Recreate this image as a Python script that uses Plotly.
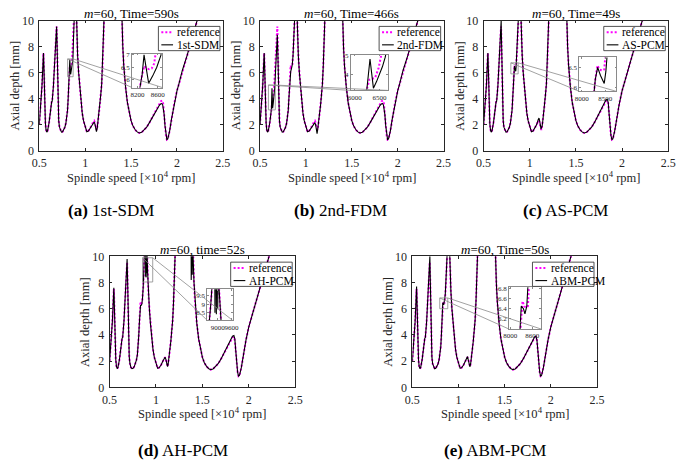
import plotly.graph_objects as go

W, H = 685, 469
FONT = "Liberation Serif"

# ---------------- data (spindle speed in 10^4 rpm, axial depth in mm) ----------------
ref_speed = [0.500, 0.510, 0.520, 0.530, 0.538, 0.546, 0.551, 0.556, 0.561, 0.567,
             0.574, 0.582, 0.590, 0.598, 0.606, 0.614, 0.620, 0.6245, 0.6295, 0.6350,
             0.6410, 0.6480, 0.6548, 0.6620, 0.6700, 0.6780, 0.6850, 0.6890, 0.6930, 0.6970,
             0.7010, 0.7060, 0.7120, 0.7200, 0.7300, 0.7420, 0.7540, 0.7660, 0.7780, 0.7900,
             0.8000, 0.8080, 0.8150, 0.8200, 0.8240, 0.8290, 0.8335, 0.8380, 0.8430, 0.8480,
             0.8530, 0.8570, 0.8620, 0.8680, 0.8730, 0.8780, 0.8860, 0.8950, 0.9000, 0.9050,
             0.9100, 0.9180, 0.9290, 0.9400, 0.9540, 0.9680, 0.9820, 1.0000, 1.0180, 1.0350,
             1.0550, 1.0750, 1.0900, 1.0980, 1.1060, 1.1140, 1.1200, 1.1250, 1.1320, 1.1400,
             1.1500, 1.1600, 1.1700, 1.1800, 1.1900, 1.2000, 1.2080, 1.2200, 1.3900, 1.4000,
             1.4100, 1.4200, 1.4300, 1.4400, 1.4600, 1.4800, 1.5000, 1.5200, 1.5450, 1.5700,
             1.5900, 1.6150, 1.6400, 1.6700, 1.7000, 1.7300, 1.7600, 1.7900, 1.8100, 1.8250,
             1.8400, 1.8500, 1.8600, 1.8700, 1.8800, 1.8900, 1.9000, 1.9200, 1.9400, 1.9700,
             2.0000, 2.0200, 2.0600, 2.1100, 2.1600, 2.2000, 2.2200, 2.3000]
ref_depth = [2.00, 2.80, 3.70, 5.00, 6.30, 7.50, 6.40, 4.60, 3.10, 2.10,
             1.60, 1.42, 1.50, 1.75, 2.10, 2.55, 2.90, 3.20, 3.70, 3.75,
             3.80, 4.30, 5.00, 6.00, 7.20, 8.40, 9.30, 9.55, 8.50, 6.50,
             4.60, 3.20, 2.30, 1.80, 1.52, 1.42, 1.45, 1.58, 1.78, 2.10,
             2.50, 3.10, 4.00, 4.80, 5.60, 6.20, 6.55, 6.45, 6.42, 6.45,
             6.65, 6.95, 7.60, 8.60, 9.50, 10.40, 12.50, 13.00, 12.00, 10.20,
             8.80, 7.30, 6.00, 4.90, 3.80, 2.90, 2.30, 1.75, 1.45, 1.50,
             1.70, 2.00, 2.25, 2.30, 2.15, 1.85, 1.60, 1.58, 1.80, 2.20,
             2.80, 3.50, 4.30, 5.10, 6.60, 8.50, 10.20, 13.00, 13.00, 10.00,
             8.00, 6.60, 5.60, 4.90, 3.70, 2.85, 2.30, 1.90, 1.60, 1.42,
             1.35, 1.40, 1.55, 1.80, 2.15, 2.55, 2.95, 3.35, 3.60, 3.80,
             3.85, 3.60, 2.80, 1.90, 1.15, 0.85, 0.90, 1.50, 2.40, 3.60,
             4.60, 5.10, 6.20, 7.30, 8.50, 9.50, 10.10, 12.00]

# 1st-SDM: local differences from the reference
sdm_kink_speed = [0.8290, 0.8328, 0.8370, 0.8420, 0.8500, 0.8580, 0.8665, 0.8720]
sdm_kink_depth = [6.20, 7.00, 6.40, 5.85, 6.15, 6.50, 7.00, 8.40]
sdm_notch_speed = [1.0900, 1.0980, 1.1060, 1.1140, 1.1230, 1.1320]
sdm_notch_depth = [2.15, 2.20, 2.05, 1.70, 1.45, 1.75]
sdm_peak_speed = [1.8100, 1.8250, 1.8350, 1.8450, 1.8550]
sdm_peak_depth = [3.50, 3.60, 3.62, 3.50, 3.10]

# 2nd-FDM
fdm_kink_speed = [0.6245, 0.6308, 0.6340, 0.6377, 0.6440, 0.6500, 0.6560, 0.6616, 0.6700,
                  0.6780, 0.6850, 0.6890, 0.6930]
fdm_kink_depth = [3.20, 4.80, 4.00, 3.25, 3.60, 4.00, 4.40, 4.90, 6.20,
                  7.60, 8.60, 8.90, 8.00]
fdm_kink2_speed = [0.8240, 0.8290, 0.8350, 0.8430, 0.8520, 0.8600]
fdm_kink2_depth = [5.40, 5.80, 6.10, 6.30, 6.60, 7.30]
fdm_notch_speed = [1.0900, 1.0980, 1.1060, 1.1140, 1.1220, 1.1300]
fdm_notch_depth = [2.10, 2.15, 2.00, 1.65, 1.30, 1.70]
fdm_peak_speed = [1.8100, 1.8250, 1.8350, 1.8450, 1.8550]
fdm_peak_depth = [3.50, 3.60, 3.62, 3.50, 3.10]

# AS-PCM
as_top_speed = [0.6850, 0.6900, 0.6935]
as_top_depth = [9.50, 10.00, 8.60]
as_kink_speed = [0.8290, 0.8340, 0.8400, 0.8480, 0.8515, 0.8550, 0.8620]
as_kink_depth = [6.20, 6.50, 6.30, 6.10, 6.40, 6.80, 7.60]
as_bump_speed = [1.0900, 1.1000, 1.1080, 1.1150, 1.1220, 1.1300]
as_bump_depth = [2.35, 2.50, 2.25, 1.90, 1.65, 1.85]
as_peak_speed = [1.8250, 1.8400, 1.8500]
as_peak_depth = [3.90, 3.95, 3.70]

# AH-PCM
ah_first_speed = [0.5460]
ah_first_depth = [7.60]
ah_top_speed = [0.6850, 0.6890, 0.6930]
ah_top_depth = [9.50, 9.80, 8.60]
ah_kink_speed = [0.8290, 0.8335, 0.8400, 0.8480, 0.8550]
ah_kink_depth = [6.10, 6.25, 6.25, 6.35, 6.80]
ah_spike_speed = [0.8870, 0.8885, 0.8900, 0.8930, 0.8945, 0.8960, 0.8990, 0.9005, 0.9020]
ah_spike_depth = [12.80, 8.50, 12.80, 13.00, 8.40, 13.00, 12.50, 8.70, 11.50]
ah_spike2_speed = [1.3780, 1.3800, 1.3830, 1.3880, 1.3910, 1.3940]
ah_spike2_depth = [13.00, 8.20, 13.00, 13.00, 8.60, 13.00]
ah_peak_speed = [1.8250, 1.8400, 1.8500]
ah_peak_depth = [3.90, 3.95, 3.70]

# ABM-PCM
abm_first_speed = [0.5460]
abm_first_depth = [7.70]
abm_top_speed = [0.6850, 0.6900, 0.6935]
abm_top_depth = [9.60, 10.00, 8.60]
abm_kink_speed = [0.8290, 0.8300, 0.8360, 0.8400, 0.8450, 0.8515, 0.8570]
abm_kink_depth = [6.20, 6.45, 6.40, 6.30, 6.45, 6.80, 7.10]
abm_bump_speed = [1.0980, 1.1220]
abm_bump_depth = [2.35, 1.60]
abm_peak_speed = [1.8250, 1.8400]
abm_peak_depth = [3.85, 3.90]

method_names = ["1st-SDM", "2nd-FDM", "AS-PCM", "AH-PCM", "ABM-PCM"]
panel_letters = ["a", "b", "c", "d", "e"]
titles = ["<i>m</i>=60, Time=590s", "<i>m</i>=60, Time=466s", "<i>m</i>=60, Time=49s",
          "<i>m</i>=60, time=52s", "<i>m</i>=60, Time=50s"]
x_ticks = [0.5, 1, 1.5, 2, 2.5]
x_tick_labels = ["0.5", "1", "1.5", "2", "2.5"]
y_ticks = [0, 2, 4, 6, 8, 10]
y_tick_labels = ["0", "2", "4", "6", "8", "10"]

inset_x_ranges = [[8090, 8690], [5920, 6670], [7950, 8740], [8550, 9650], [7970, 8840]]
inset_y_ranges = [[5.68, 7.05], [3.13, 5.04], [5.90, 6.75], [8.04, 9.89], [6.00, 6.82]]
inset_x_ticks = [[8200, 8600], [6000, 6500], [8000, 8500], [9000, 9600], [8000, 8600]]
inset_y_ticks = [[6, 6.5, 7], [4, 5], [6, 6.5], [8.5, 9, 9.5], [6.2, 6.4, 6.6, 6.8]]
inset_y_labels = [["6", "6.5", "7"], ["4", "5"], ["6", "6.5"], ["8.5", "9", "9.5"],
                  ["6.2", "6.4", "6.6", "6.8"]]


def splice(bs, bd, segments):
    pts = list(zip(bs, bd))
    for ss, dd in segments:
        lo, hi = min(ss), max(ss)
        pts = [p for p in pts if not (lo <= p[0] <= hi)]
        pts += list(zip(ss, dd))
    pts.sort()
    return [p[0] for p in pts], [p[1] for p in pts]


methods = [
    splice(ref_speed, ref_depth, [(sdm_kink_speed, sdm_kink_depth), (sdm_notch_speed, sdm_notch_depth),
                                  (sdm_peak_speed, sdm_peak_depth)]),
    splice(ref_speed, ref_depth, [(fdm_kink_speed, fdm_kink_depth), (fdm_kink2_speed, fdm_kink2_depth),
                                  (fdm_notch_speed, fdm_notch_depth), (fdm_peak_speed, fdm_peak_depth)]),
    splice(ref_speed, ref_depth, [(as_top_speed, as_top_depth), (as_kink_speed, as_kink_depth),
                                  (as_bump_speed, as_bump_depth), (as_peak_speed, as_peak_depth)]),
    splice(ref_speed, ref_depth, [(ah_first_speed, ah_first_depth), (ah_top_speed, ah_top_depth),
                                  (ah_kink_speed, ah_kink_depth), (ah_spike_speed, ah_spike_depth),
                                  (ah_spike2_speed, ah_spike2_depth), (ah_peak_speed, ah_peak_depth)]),
    splice(ref_speed, ref_depth, [(abm_first_speed, abm_first_depth), (abm_top_speed, abm_top_depth),
                                  (abm_kink_speed, abm_kink_depth), (abm_bump_speed, abm_bump_depth),
                                  (abm_peak_speed, abm_peak_depth)]),
]

# ---------------- layout geometry (pixels) ----------------
main_boxes = [(32, 14, 220, 148), (258, 14, 446, 148), (487, 14, 676, 148),
              (104, 257, 294, 392), (414, 257, 603, 392)]
inset_boxes = [(127, 48, 158, 83), (351, 49, 389, 86), (585, 52, 623, 87),
               (204, 291, 230, 323), (513, 289, 546, 332)]
caption_x = [105, 340, 571, 179, 499]
caption_y = [210, 210, 210, 457, 457]


def px(x):
    return x / W


def py(y):
    return 1 - y / H


AX = "#262626"
GREY = "#8a8a8a"
MAG = "#ff00ff"
DOT = "2px,2px"

fig = go.Figure()
layout = dict(width=W, height=H, margin=dict(l=0, r=0, t=0, b=0),
              paper_bgcolor="white", plot_bgcolor="white", showlegend=False,
              shapes=[], annotations=[])


def axkey(kind, i):
    return kind + "axis" + ("" if i == 1 else str(i))


def ref_id(kind, i):
    return kind + ("" if i == 1 else str(i))


for k in range(5):
    mi = k + 1
    ii = k + 6
    x0, y0, x1, y1 = main_boxes[k]
    ix0, iy0, ix1, iy1 = inset_boxes[k]
    ms, md = methods[k]

    layout[axkey("x", mi)] = dict(
        domain=[px(x0), px(x1)], range=[0.5, 2.5], anchor=ref_id("y", mi),
        showline=True, mirror="ticks", linecolor=AX, linewidth=0.8,
        ticks="inside", ticklen=3, tickcolor=AX, tickwidth=0.8,
        tickvals=x_ticks, ticktext=x_tick_labels, tickangle=0, ticklabelstandoff=1,
        tickfont=dict(family=FONT, size=12, color=AX),
        showgrid=False, zeroline=False, fixedrange=True)
    layout[axkey("y", mi)] = dict(
        domain=[py(y1), py(y0)], range=[0, 10], anchor=ref_id("x", mi),
        showline=True, mirror="ticks", linecolor=AX, linewidth=0.8,
        ticks="inside", ticklen=3, tickcolor=AX, tickwidth=0.8,
        tickvals=y_ticks, ticktext=y_tick_labels, ticklabelstandoff=2,
        tickfont=dict(family=FONT, size=12, color=AX),
        showgrid=False, zeroline=False, fixedrange=True)

    xr = inset_x_ranges[k]
    yr = inset_y_ranges[k]
    layout[axkey("x", ii)] = dict(
        domain=[px(ix0), px(ix1)], range=xr, anchor=ref_id("y", ii),
        showline=True, mirror="ticks", linecolor=GREY, linewidth=0.8,
        ticks="inside", ticklen=2, tickcolor=GREY, tickwidth=0.6,
        tickvals=inset_x_ticks[k], ticktext=[str(v) for v in inset_x_ticks[k]],
        tickangle=0,
        tickfont=dict(family=FONT, size=7, color=AX),
        showgrid=False, zeroline=False, fixedrange=True)
    layout[axkey("y", ii)] = dict(
        domain=[py(iy1), py(iy0)], range=yr, anchor=ref_id("x", ii),
        showline=True, mirror="ticks", linecolor=GREY, linewidth=0.8,
        ticks="inside", ticklen=2, tickcolor=GREY, tickwidth=0.6,
        tickvals=inset_y_ticks[k], ticktext=inset_y_labels[k],
        tickfont=dict(family=FONT, size=7, color=AX),
        showgrid=False, zeroline=False, fixedrange=True)

    # main curves
    fig.add_trace(go.Scatter(x=ref_speed, y=ref_depth, mode="lines",
                             line=dict(color=MAG, width=2, dash=DOT),
                             xaxis=ref_id("x", mi), yaxis=ref_id("y", mi)))
    fig.add_trace(go.Scatter(x=ms, y=md, mode="lines",
                             line=dict(color="black", width=1.1),
                             xaxis=ref_id("x", mi), yaxis=ref_id("y", mi)))
    # inset curves (rpm)
    fig.add_trace(go.Scatter(x=[s * 1e4 for s in ref_speed], y=ref_depth, mode="lines",
                             line=dict(color=MAG, width=2, dash=DOT),
                             xaxis=ref_id("x", ii), yaxis=ref_id("y", ii)))
    fig.add_trace(go.Scatter(x=[s * 1e4 for s in ms], y=md, mode="lines",
                             line=dict(color="black", width=1.1),
                             xaxis=ref_id("x", ii), yaxis=ref_id("y", ii)))

    # zoom rectangle on main plot
    rs0, rs1 = xr[0] / 1e4, xr[1] / 1e4
    layout["shapes"].append(dict(type="rect", xref=ref_id("x", mi), yref=ref_id("y", mi),
                                 x0=rs0, x1=rs1, y0=yr[0], y1=yr[1],
                                 line=dict(color=GREY, width=0.8), layer="above"))

    def to_paper(s, d):
        return (px(x0) + (s - 0.5) / 2 * (px(x1) - px(x0)),
                py(y1) + d / 10 * (py(y0) - py(y1)))

    tl = to_paper(rs0, yr[1])
    tr = to_paper(rs1, yr[1])
    for (a, b) in [(tl, (px(ix0), py(iy1))), (tr, (px(ix1), py(iy1)))]:
        layout["shapes"].append(dict(type="line", xref="paper", yref="paper",
                                     x0=a[0], y0=a[1], x1=b[0], y1=b[1],
                                     line=dict(color=GREY, width=0.8), layer="above"))

    # legend box
    lx1 = x1 - 3
    lx0 = lx1 - 63
    ly0 = y0 + 6
    ly1 = ly0 + 25
    layout["shapes"].append(dict(type="rect", xref="paper", yref="paper",
                                 x0=px(lx0), x1=px(lx1), y0=py(ly1), y1=py(ly0),
                                 fillcolor="white", line=dict(color=AX, width=0.8), layer="above"))
    for row, (col, dash, wd, label) in enumerate([(MAG, DOT, 2, "reference"),
                                                   ("black", "solid", 1.1, method_names[k])]):
        yy = ly0 + 6 + row * 13
        layout["shapes"].append(dict(type="line", xref="paper", yref="paper",
                                     x0=px(lx0 + 3), x1=px(lx0 + 15), y0=py(yy), y1=py(yy),
                                     line=dict(color=col, width=wd, dash=dash), layer="above"))
        layout["annotations"].append(dict(x=px(lx0 + 16.5), y=py(yy), xref="paper", yref="paper",
                                          text=label, showarrow=False, xanchor="left",
                                          yanchor="middle",
                                          font=dict(family=FONT, size=11.5, color="black")))

    # title
    layout["annotations"].append(dict(x=px((x0 + x1) / 2), y=py(y0 - 7), xref="paper", yref="paper",
                                      text=titles[k], showarrow=False, xanchor="center",
                                      yanchor="middle",
                                      font=dict(family=FONT, size=13, color="black")))
    # axis titles
    layout["annotations"].append(dict(x=px((x0 + x1) / 2), y=py(y1 + 27), xref="paper", yref="paper",
                                      text="Spindle speed [×10<sup>4</sup> rpm]", showarrow=False,
                                      xanchor="center", yanchor="middle",
                                      font=dict(family=FONT, size=12.5, color=AX)))
    layout["annotations"].append(dict(x=px(x0 - 25), y=py((y0 + y1) / 2), xref="paper", yref="paper",
                                      text="Axial depth [mm]", showarrow=False, textangle=-90,
                                      xanchor="center", yanchor="middle",
                                      font=dict(family=FONT, size=12.5, color=AX)))
    # caption
    layout["annotations"].append(dict(x=px(caption_x[k]), y=py(caption_y[k]),
                                      xref="paper", yref="paper",
                                      text="<b>(" + panel_letters[k] + ")</b> " + method_names[k],
                                      showarrow=False, xanchor="center", yanchor="middle",
                                      font=dict(family=FONT, size=17, color="black")))

fig.update_layout(**layout)
fig.write_html("out.html", config={"displayModeBar": False},
               post_script="document.body.style.margin='0';document.body.style.overflow='hidden';")
